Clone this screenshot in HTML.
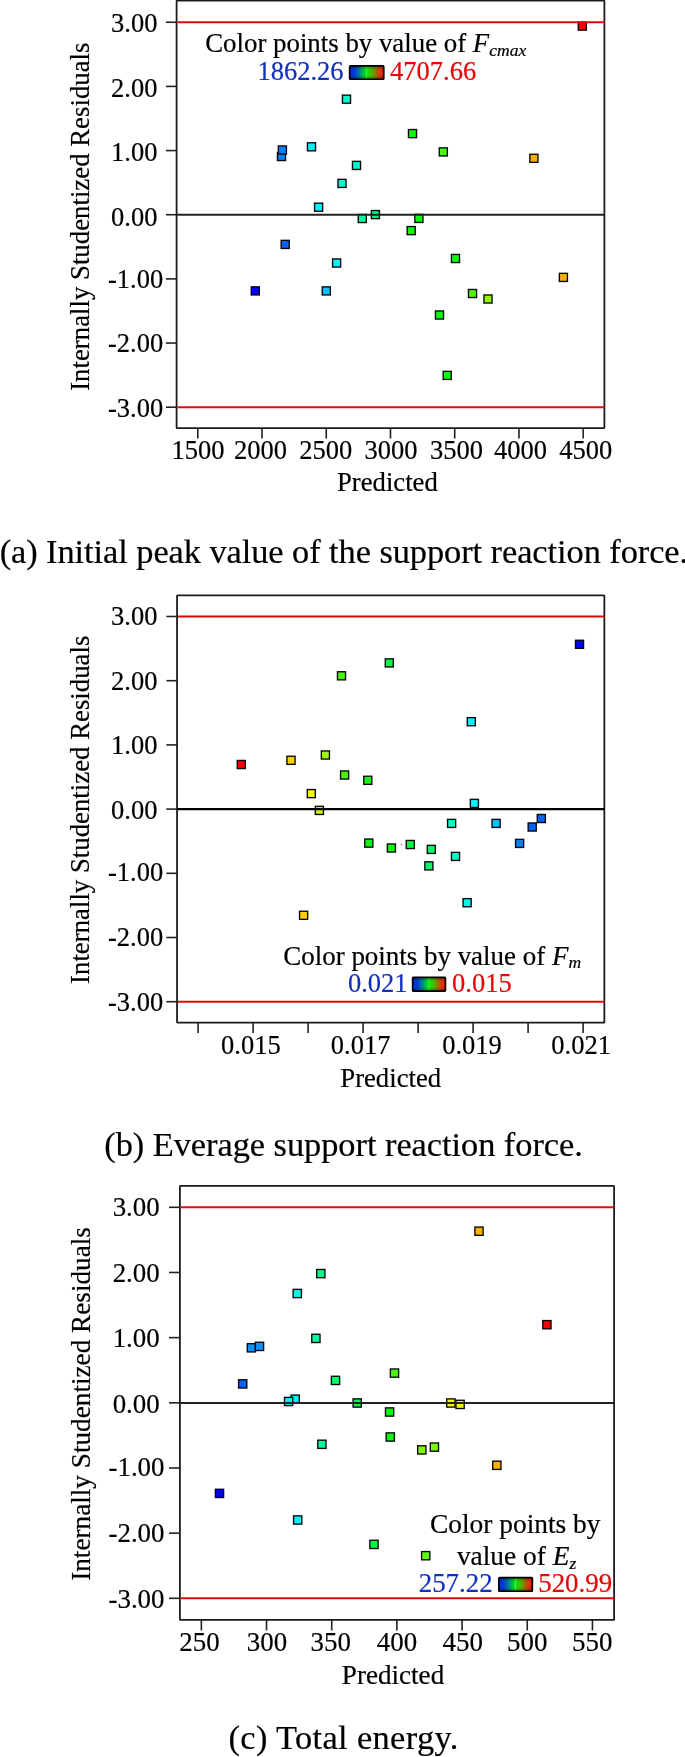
<!DOCTYPE html>
<html><head><meta charset="utf-8"><title>Residual plots</title>
<style>
html,body{margin:0;padding:0;background:#fff;}
body{width:685px;height:1757px;overflow:hidden;}
svg{display:block;will-change:transform;font-family:"Liberation Serif",serif;}
</style></head><body>
<svg width="685" height="1757" viewBox="0 0 685 1757">
<defs><linearGradient id="cb" x1="0" y1="0" x2="1" y2="0">
<stop offset="0" stop-color="#0028e0"/><stop offset="0.15" stop-color="#0040d0"/><stop offset="0.3" stop-color="#008890"/><stop offset="0.42" stop-color="#00c838"/><stop offset="0.48" stop-color="#10e818"/><stop offset="0.5" stop-color="#40ff40"/><stop offset="0.52" stop-color="#18e010"/><stop offset="0.65" stop-color="#48b800"/><stop offset="0.76" stop-color="#907800"/><stop offset="0.86" stop-color="#d04008"/><stop offset="0.93" stop-color="#e82808"/><stop offset="1" stop-color="#f01808"/>
</linearGradient>
<linearGradient id="sh" x1="0" y1="0" x2="0" y2="1"><stop offset="0" stop-color="#000" stop-opacity="0.35"/><stop offset="0.3" stop-color="#000" stop-opacity="0"/><stop offset="0.7" stop-color="#000" stop-opacity="0"/><stop offset="1" stop-color="#000" stop-opacity="0.35"/></linearGradient></defs>
<rect width="685" height="1757" fill="#fff"/>
<rect x="176.60" y="0.60" width="427.80" height="427.60" fill="none" stroke="#1c1c1c" stroke-width="1.8" rx="0.6"/>
<line x1="165.90" y1="22.25" x2="176.60" y2="22.25" stroke="#222" stroke-width="1.6"/>
<line x1="165.90" y1="86.41" x2="176.60" y2="86.41" stroke="#222" stroke-width="1.6"/>
<line x1="165.90" y1="150.57" x2="176.60" y2="150.57" stroke="#222" stroke-width="1.6"/>
<line x1="165.90" y1="214.73" x2="176.60" y2="214.73" stroke="#222" stroke-width="1.6"/>
<line x1="165.90" y1="278.89" x2="176.60" y2="278.89" stroke="#222" stroke-width="1.6"/>
<line x1="165.90" y1="343.05" x2="176.60" y2="343.05" stroke="#222" stroke-width="1.6"/>
<line x1="165.90" y1="407.21" x2="176.60" y2="407.21" stroke="#222" stroke-width="1.6"/>
<text x="134.30" y="31.80" font-size="26.5" text-anchor="middle" fill="#000" stroke="#000" stroke-width="0.2" >3.00</text>
<text x="134.30" y="96.80" font-size="26.5" text-anchor="middle" fill="#000" stroke="#000" stroke-width="0.2" >2.00</text>
<text x="134.30" y="161.40" font-size="26.5" text-anchor="middle" fill="#000" stroke="#000" stroke-width="0.2" >1.00</text>
<text x="134.30" y="225.90" font-size="26.5" text-anchor="middle" fill="#000" stroke="#000" stroke-width="0.2" >0.00</text>
<text x="135.60" y="287.60" font-size="26.5" text-anchor="middle" fill="#000" stroke="#000" stroke-width="0.2" >-1.00</text>
<text x="135.60" y="352.20" font-size="26.5" text-anchor="middle" fill="#000" stroke="#000" stroke-width="0.2" >-2.00</text>
<text x="135.60" y="416.60" font-size="26.5" text-anchor="middle" fill="#000" stroke="#000" stroke-width="0.2" >-3.00</text>
<line x1="197.80" y1="428.20" x2="197.80" y2="438.60" stroke="#222" stroke-width="1.6"/>
<line x1="262.03" y1="428.20" x2="262.03" y2="438.60" stroke="#222" stroke-width="1.6"/>
<line x1="326.26" y1="428.20" x2="326.26" y2="438.60" stroke="#222" stroke-width="1.6"/>
<line x1="390.49" y1="428.20" x2="390.49" y2="438.60" stroke="#222" stroke-width="1.6"/>
<line x1="454.72" y1="428.20" x2="454.72" y2="438.60" stroke="#222" stroke-width="1.6"/>
<line x1="518.95" y1="428.20" x2="518.95" y2="438.60" stroke="#222" stroke-width="1.6"/>
<line x1="583.18" y1="428.20" x2="583.18" y2="438.60" stroke="#222" stroke-width="1.6"/>
<text x="198.00" y="459.00" font-size="26.5" text-anchor="middle" fill="#000" stroke="#000" stroke-width="0.2" >1500</text>
<text x="260.40" y="459.00" font-size="26.5" text-anchor="middle" fill="#000" stroke="#000" stroke-width="0.2" >2000</text>
<text x="325.70" y="459.00" font-size="26.5" text-anchor="middle" fill="#000" stroke="#000" stroke-width="0.2" >2500</text>
<text x="391.00" y="459.00" font-size="26.5" text-anchor="middle" fill="#000" stroke="#000" stroke-width="0.2" >3000</text>
<text x="456.40" y="459.00" font-size="26.5" text-anchor="middle" fill="#000" stroke="#000" stroke-width="0.2" >3500</text>
<text x="520.50" y="459.00" font-size="26.5" text-anchor="middle" fill="#000" stroke="#000" stroke-width="0.2" >4000</text>
<text x="585.70" y="459.00" font-size="26.5" text-anchor="middle" fill="#000" stroke="#000" stroke-width="0.2" >4500</text>
<rect x="578.25" y="22.05" width="8.10" height="8.10" fill="#f80000" stroke="#05050a" stroke-width="1.35"/>
<rect x="342.45" y="95.15" width="8.10" height="8.10" fill="#08f8c8" stroke="#05050a" stroke-width="1.35"/>
<rect x="408.45" y="129.55" width="8.10" height="8.10" fill="#10f810" stroke="#05050a" stroke-width="1.35"/>
<rect x="277.45" y="152.45" width="8.10" height="8.10" fill="#0880f8" stroke="#05050a" stroke-width="1.35"/>
<rect x="278.35" y="145.95" width="8.10" height="8.10" fill="#0880f8" stroke="#05050a" stroke-width="1.35"/>
<rect x="307.45" y="142.75" width="8.10" height="8.10" fill="#08f0f8" stroke="#05050a" stroke-width="1.35"/>
<rect x="439.25" y="147.85" width="8.10" height="8.10" fill="#48f808" stroke="#05050a" stroke-width="1.35"/>
<rect x="529.85" y="154.25" width="8.10" height="8.10" fill="#f8b000" stroke="#05050a" stroke-width="1.35"/>
<rect x="352.45" y="161.35" width="8.10" height="8.10" fill="#08f8c8" stroke="#05050a" stroke-width="1.35"/>
<rect x="337.95" y="179.35" width="8.10" height="8.10" fill="#08f8c8" stroke="#05050a" stroke-width="1.35"/>
<rect x="314.55" y="203.15" width="8.10" height="8.10" fill="#08f0f8" stroke="#05050a" stroke-width="1.35"/>
<rect x="371.35" y="210.55" width="8.10" height="8.10" fill="#08f080" stroke="#05050a" stroke-width="1.35"/>
<rect x="358.25" y="214.45" width="8.10" height="8.10" fill="#08f8a0" stroke="#05050a" stroke-width="1.35"/>
<rect x="414.85" y="214.35" width="8.10" height="8.10" fill="#10f810" stroke="#05050a" stroke-width="1.35"/>
<rect x="407.15" y="226.55" width="8.10" height="8.10" fill="#10f810" stroke="#05050a" stroke-width="1.35"/>
<rect x="281.15" y="240.35" width="8.10" height="8.10" fill="#0860f8" stroke="#05050a" stroke-width="1.35"/>
<rect x="451.45" y="254.45" width="8.10" height="8.10" fill="#10f810" stroke="#05050a" stroke-width="1.35"/>
<rect x="332.55" y="258.95" width="8.10" height="8.10" fill="#08f0f8" stroke="#05050a" stroke-width="1.35"/>
<rect x="559.35" y="273.35" width="8.10" height="8.10" fill="#f8b000" stroke="#05050a" stroke-width="1.35"/>
<rect x="251.25" y="286.85" width="8.10" height="8.10" fill="#0000f8" stroke="#05050a" stroke-width="1.35"/>
<rect x="322.25" y="286.85" width="8.10" height="8.10" fill="#08c0f8" stroke="#05050a" stroke-width="1.35"/>
<rect x="468.45" y="289.45" width="8.10" height="8.10" fill="#48f808" stroke="#05050a" stroke-width="1.35"/>
<rect x="483.95" y="294.95" width="8.10" height="8.10" fill="#90f808" stroke="#05050a" stroke-width="1.35"/>
<rect x="435.45" y="310.95" width="8.10" height="8.10" fill="#10f810" stroke="#05050a" stroke-width="1.35"/>
<rect x="443.15" y="371.35" width="8.10" height="8.10" fill="#10f810" stroke="#05050a" stroke-width="1.35"/>
<line x1="176.60" y1="214.85" x2="604.40" y2="214.85" stroke="#222" stroke-width="2.0"/>
<line x1="177.50" y1="22.25" x2="604.70" y2="22.25" stroke="#e00a0a" stroke-width="2.1"/>
<line x1="177.50" y1="407.21" x2="604.70" y2="407.21" stroke="#e00a0a" stroke-width="2.1"/>
<text x="387.40" y="491.30" font-size="26.7" text-anchor="middle" fill="#000" stroke="#000" stroke-width="0.2" >Predicted</text>
<text transform="translate(88.90,216.70) rotate(-90)" font-size="26.80" text-anchor="middle" fill="#000" stroke="#000" stroke-width="0.2">Internally Studentized Residuals</text>
<text x="205.20" y="52.10" font-size="26.85" text-anchor="start" fill="#000" stroke="#000" stroke-width="0.2" >Color points by value of <tspan font-style="italic">F</tspan><tspan font-style="italic" font-size="17.5" dy="3.6">cmax</tspan></text>
<text x="343.50" y="79.80" font-size="26.5" text-anchor="end" fill="#1030c0" stroke="#1030c0" stroke-width="0.2" >1862.26</text>
<text x="390.00" y="79.80" font-size="26.5" text-anchor="start" fill="#e60606" stroke="#e60606" stroke-width="0.2" >4707.66</text>
<rect x="349.65" y="65.85" width="34.10" height="13.40" rx="0.8" fill="url(#cb)"/>
<rect x="349.65" y="65.85" width="34.10" height="13.40" rx="0.8" fill="url(#sh)" stroke="#000" stroke-width="1.7"/>
<text x="-0.35" y="563.10" font-size="34.4" text-anchor="start" fill="#000" stroke="#000" stroke-width="0.2" textLength="688.5">(a) Initial peak value of the support reaction force.</text>
<rect x="177.05" y="595.40" width="427.30" height="427.30" fill="none" stroke="#1c1c1c" stroke-width="1.8" rx="0.6"/>
<line x1="166.35" y1="616.50" x2="177.05" y2="616.50" stroke="#222" stroke-width="1.6"/>
<line x1="166.35" y1="680.70" x2="177.05" y2="680.70" stroke="#222" stroke-width="1.6"/>
<line x1="166.35" y1="744.90" x2="177.05" y2="744.90" stroke="#222" stroke-width="1.6"/>
<line x1="166.35" y1="809.10" x2="177.05" y2="809.10" stroke="#222" stroke-width="1.6"/>
<line x1="166.35" y1="873.30" x2="177.05" y2="873.30" stroke="#222" stroke-width="1.6"/>
<line x1="166.35" y1="937.50" x2="177.05" y2="937.50" stroke="#222" stroke-width="1.6"/>
<line x1="166.35" y1="1001.70" x2="177.05" y2="1001.70" stroke="#222" stroke-width="1.6"/>
<text x="134.30" y="624.90" font-size="26.5" text-anchor="middle" fill="#000" stroke="#000" stroke-width="0.2" >3.00</text>
<text x="134.30" y="690.00" font-size="26.5" text-anchor="middle" fill="#000" stroke="#000" stroke-width="0.2" >2.00</text>
<text x="134.30" y="754.40" font-size="26.5" text-anchor="middle" fill="#000" stroke="#000" stroke-width="0.2" >1.00</text>
<text x="134.30" y="818.90" font-size="26.5" text-anchor="middle" fill="#000" stroke="#000" stroke-width="0.2" >0.00</text>
<text x="135.60" y="880.60" font-size="26.5" text-anchor="middle" fill="#000" stroke="#000" stroke-width="0.2" >-1.00</text>
<text x="135.60" y="946.00" font-size="26.5" text-anchor="middle" fill="#000" stroke="#000" stroke-width="0.2" >-2.00</text>
<text x="135.60" y="1010.70" font-size="26.5" text-anchor="middle" fill="#000" stroke="#000" stroke-width="0.2" >-3.00</text>
<line x1="198.10" y1="1022.70" x2="198.10" y2="1033.10" stroke="#222" stroke-width="1.6"/>
<line x1="253.10" y1="1022.70" x2="253.10" y2="1033.10" stroke="#222" stroke-width="1.6"/>
<line x1="308.10" y1="1022.70" x2="308.10" y2="1033.10" stroke="#222" stroke-width="1.6"/>
<line x1="363.10" y1="1022.70" x2="363.10" y2="1033.10" stroke="#222" stroke-width="1.6"/>
<line x1="418.10" y1="1022.70" x2="418.10" y2="1033.10" stroke="#222" stroke-width="1.6"/>
<line x1="473.10" y1="1022.70" x2="473.10" y2="1033.10" stroke="#222" stroke-width="1.6"/>
<line x1="528.10" y1="1022.70" x2="528.10" y2="1033.10" stroke="#222" stroke-width="1.6"/>
<line x1="583.10" y1="1022.70" x2="583.10" y2="1033.10" stroke="#222" stroke-width="1.6"/>
<text x="250.90" y="1053.50" font-size="26.5" text-anchor="middle" fill="#000" stroke="#000" stroke-width="0.2" >0.015</text>
<text x="360.60" y="1053.50" font-size="26.5" text-anchor="middle" fill="#000" stroke="#000" stroke-width="0.2" >0.017</text>
<text x="472.00" y="1053.50" font-size="26.5" text-anchor="middle" fill="#000" stroke="#000" stroke-width="0.2" >0.019</text>
<text x="581.10" y="1053.50" font-size="26.5" text-anchor="middle" fill="#000" stroke="#000" stroke-width="0.2" >0.021</text>
<rect x="575.45" y="640.25" width="8.10" height="8.10" fill="#0000f8" stroke="#05050a" stroke-width="1.35"/>
<rect x="385.25" y="658.85" width="8.10" height="8.10" fill="#08f840" stroke="#05050a" stroke-width="1.35"/>
<rect x="337.45" y="671.75" width="8.10" height="8.10" fill="#48f808" stroke="#05050a" stroke-width="1.35"/>
<rect x="467.25" y="717.65" width="8.10" height="8.10" fill="#08f0f8" stroke="#05050a" stroke-width="1.35"/>
<rect x="237.25" y="760.45" width="8.10" height="8.10" fill="#f80000" stroke="#05050a" stroke-width="1.35"/>
<rect x="286.95" y="756.25" width="8.10" height="8.10" fill="#ffd000" stroke="#05050a" stroke-width="1.35"/>
<rect x="321.35" y="750.95" width="8.10" height="8.10" fill="#a0f808" stroke="#05050a" stroke-width="1.35"/>
<rect x="340.55" y="770.95" width="8.10" height="8.10" fill="#48f808" stroke="#05050a" stroke-width="1.35"/>
<rect x="363.75" y="776.25" width="8.10" height="8.10" fill="#10f810" stroke="#05050a" stroke-width="1.35"/>
<rect x="307.25" y="789.55" width="8.10" height="8.10" fill="#f0f808" stroke="#05050a" stroke-width="1.35"/>
<rect x="315.35" y="806.35" width="8.10" height="8.10" fill="#d0f808" stroke="#05050a" stroke-width="1.35"/>
<rect x="470.35" y="799.35" width="8.10" height="8.10" fill="#08f0f8" stroke="#05050a" stroke-width="1.35"/>
<rect x="447.55" y="819.35" width="8.10" height="8.10" fill="#08f8c8" stroke="#05050a" stroke-width="1.35"/>
<rect x="492.05" y="819.35" width="8.10" height="8.10" fill="#08c0f8" stroke="#05050a" stroke-width="1.35"/>
<rect x="528.15" y="822.95" width="8.10" height="8.10" fill="#0860f8" stroke="#05050a" stroke-width="1.35"/>
<rect x="537.25" y="814.45" width="8.10" height="8.10" fill="#0860f8" stroke="#05050a" stroke-width="1.35"/>
<rect x="515.55" y="839.35" width="8.10" height="8.10" fill="#0880f8" stroke="#05050a" stroke-width="1.35"/>
<rect x="364.75" y="839.05" width="8.10" height="8.10" fill="#10f810" stroke="#05050a" stroke-width="1.35"/>
<rect x="387.35" y="843.95" width="8.10" height="8.10" fill="#10f810" stroke="#05050a" stroke-width="1.35"/>
<rect x="406.25" y="840.45" width="8.10" height="8.10" fill="#08f840" stroke="#05050a" stroke-width="1.35"/>
<rect x="427.25" y="845.35" width="8.10" height="8.10" fill="#08f868" stroke="#05050a" stroke-width="1.35"/>
<rect x="451.45" y="852.35" width="8.10" height="8.10" fill="#08f8c8" stroke="#05050a" stroke-width="1.35"/>
<rect x="424.85" y="861.85" width="8.10" height="8.10" fill="#08f868" stroke="#05050a" stroke-width="1.35"/>
<rect x="463.05" y="898.65" width="8.10" height="8.10" fill="#08f8e8" stroke="#05050a" stroke-width="1.35"/>
<rect x="299.55" y="911.25" width="8.10" height="8.10" fill="#ffd000" stroke="#05050a" stroke-width="1.35"/>
<line x1="177.05" y1="809.05" x2="604.35" y2="809.05" stroke="#000" stroke-width="2.3"/>
<line x1="177.95" y1="616.50" x2="604.65" y2="616.50" stroke="#e00a0a" stroke-width="2.1"/>
<line x1="177.95" y1="1001.70" x2="604.65" y2="1001.70" stroke="#e00a0a" stroke-width="2.1"/>
<text x="390.70" y="1086.80" font-size="26.7" text-anchor="middle" fill="#000" stroke="#000" stroke-width="0.2" >Predicted</text>
<text transform="translate(88.90,809.80) rotate(-90)" font-size="26.80" text-anchor="middle" fill="#000" stroke="#000" stroke-width="0.2">Internally Studentized Residuals</text>
<circle cx="401.5" cy="844.6" r="0.7" fill="#555"/>
<text x="283.30" y="964.60" font-size="26.95" text-anchor="start" fill="#000" stroke="#000" stroke-width="0.2" >Color points by value of <tspan font-style="italic">F</tspan><tspan font-style="italic" font-size="17.5" dy="3.6">m</tspan></text>
<text x="407.60" y="992.10" font-size="26.5" text-anchor="end" fill="#1030c0" stroke="#1030c0" stroke-width="0.2" >0.021</text>
<text x="452.00" y="992.00" font-size="26.5" text-anchor="start" fill="#e60606" stroke="#e60606" stroke-width="0.2" >0.015</text>
<rect x="412.65" y="977.45" width="32.80" height="13.60" rx="0.8" fill="url(#cb)"/>
<rect x="412.65" y="977.45" width="32.80" height="13.60" rx="0.8" fill="url(#sh)" stroke="#000" stroke-width="1.7"/>
<text x="104.25" y="1156.20" font-size="34.4" text-anchor="start" fill="#000" stroke="#000" stroke-width="0.2" textLength="478.6">(b) Everage support reaction force.</text>
<rect x="179.90" y="1185.95" width="434.20" height="433.95" fill="none" stroke="#1c1c1c" stroke-width="1.8" rx="0.6"/>
<line x1="169.03" y1="1207.30" x2="179.90" y2="1207.30" stroke="#222" stroke-width="1.6"/>
<line x1="169.03" y1="1272.47" x2="179.90" y2="1272.47" stroke="#222" stroke-width="1.6"/>
<line x1="169.03" y1="1337.64" x2="179.90" y2="1337.64" stroke="#222" stroke-width="1.6"/>
<line x1="169.03" y1="1402.81" x2="179.90" y2="1402.81" stroke="#222" stroke-width="1.6"/>
<line x1="169.03" y1="1467.98" x2="179.90" y2="1467.98" stroke="#222" stroke-width="1.6"/>
<line x1="169.03" y1="1533.15" x2="179.90" y2="1533.15" stroke="#222" stroke-width="1.6"/>
<line x1="169.03" y1="1598.32" x2="179.90" y2="1598.32" stroke="#222" stroke-width="1.6"/>
<text x="136.20" y="1216.00" font-size="26.924" text-anchor="middle" fill="#000" stroke="#000" stroke-width="0.2" >3.00</text>
<text x="136.20" y="1281.70" font-size="26.924" text-anchor="middle" fill="#000" stroke="#000" stroke-width="0.2" >2.00</text>
<text x="136.20" y="1347.10" font-size="26.924" text-anchor="middle" fill="#000" stroke="#000" stroke-width="0.2" >1.00</text>
<text x="136.20" y="1412.50" font-size="26.924" text-anchor="middle" fill="#000" stroke="#000" stroke-width="0.2" >0.00</text>
<text x="136.50" y="1476.10" font-size="26.924" text-anchor="middle" fill="#000" stroke="#000" stroke-width="0.2" >-1.00</text>
<text x="136.50" y="1541.90" font-size="26.924" text-anchor="middle" fill="#000" stroke="#000" stroke-width="0.2" >-2.00</text>
<text x="136.50" y="1608.00" font-size="26.924" text-anchor="middle" fill="#000" stroke="#000" stroke-width="0.2" >-3.00</text>
<line x1="201.35" y1="1619.90" x2="201.35" y2="1630.47" stroke="#222" stroke-width="1.6"/>
<line x1="266.53" y1="1619.90" x2="266.53" y2="1630.47" stroke="#222" stroke-width="1.6"/>
<line x1="331.71" y1="1619.90" x2="331.71" y2="1630.47" stroke="#222" stroke-width="1.6"/>
<line x1="396.89" y1="1619.90" x2="396.89" y2="1630.47" stroke="#222" stroke-width="1.6"/>
<line x1="462.07" y1="1619.90" x2="462.07" y2="1630.47" stroke="#222" stroke-width="1.6"/>
<line x1="527.25" y1="1619.90" x2="527.25" y2="1630.47" stroke="#222" stroke-width="1.6"/>
<line x1="592.43" y1="1619.90" x2="592.43" y2="1630.47" stroke="#222" stroke-width="1.6"/>
<text x="199.40" y="1651.20" font-size="26.924" text-anchor="middle" fill="#000" stroke="#000" stroke-width="0.2" >250</text>
<text x="266.90" y="1651.20" font-size="26.924" text-anchor="middle" fill="#000" stroke="#000" stroke-width="0.2" >300</text>
<text x="330.80" y="1651.20" font-size="26.924" text-anchor="middle" fill="#000" stroke="#000" stroke-width="0.2" >350</text>
<text x="397.00" y="1651.20" font-size="26.924" text-anchor="middle" fill="#000" stroke="#000" stroke-width="0.2" >400</text>
<text x="462.70" y="1651.20" font-size="26.924" text-anchor="middle" fill="#000" stroke="#000" stroke-width="0.2" >450</text>
<text x="527.30" y="1651.20" font-size="26.924" text-anchor="middle" fill="#000" stroke="#000" stroke-width="0.2" >500</text>
<text x="592.30" y="1651.20" font-size="26.924" text-anchor="middle" fill="#000" stroke="#000" stroke-width="0.2" >550</text>
<rect x="474.87" y="1227.07" width="8.25" height="8.25" fill="#f8b000" stroke="#05050a" stroke-width="1.35"/>
<rect x="316.67" y="1269.47" width="8.25" height="8.25" fill="#08f888" stroke="#05050a" stroke-width="1.35"/>
<rect x="293.17" y="1289.37" width="8.25" height="8.25" fill="#08f8e8" stroke="#05050a" stroke-width="1.35"/>
<rect x="542.77" y="1320.57" width="8.25" height="8.25" fill="#f80000" stroke="#05050a" stroke-width="1.35"/>
<rect x="311.77" y="1334.27" width="8.25" height="8.25" fill="#08f8a0" stroke="#05050a" stroke-width="1.35"/>
<rect x="247.27" y="1343.67" width="8.25" height="8.25" fill="#1090f8" stroke="#05050a" stroke-width="1.35"/>
<rect x="255.37" y="1342.27" width="8.25" height="8.25" fill="#1090f8" stroke="#05050a" stroke-width="1.35"/>
<rect x="331.37" y="1376.27" width="8.25" height="8.25" fill="#08f868" stroke="#05050a" stroke-width="1.35"/>
<rect x="390.37" y="1368.97" width="8.25" height="8.25" fill="#48f808" stroke="#05050a" stroke-width="1.35"/>
<rect x="238.57" y="1379.77" width="8.25" height="8.25" fill="#0860f8" stroke="#05050a" stroke-width="1.35"/>
<rect x="291.07" y="1395.07" width="8.25" height="8.25" fill="#08f0f8" stroke="#05050a" stroke-width="1.35"/>
<rect x="284.47" y="1397.37" width="8.25" height="8.25" fill="#08f0f8" stroke="#05050a" stroke-width="1.35"/>
<rect x="353.07" y="1398.87" width="8.25" height="8.25" fill="#08f840" stroke="#05050a" stroke-width="1.35"/>
<rect x="446.77" y="1398.87" width="8.25" height="8.25" fill="#f0f808" stroke="#05050a" stroke-width="1.35"/>
<rect x="455.97" y="1400.27" width="8.25" height="8.25" fill="#f0f808" stroke="#05050a" stroke-width="1.35"/>
<rect x="385.47" y="1407.87" width="8.25" height="8.25" fill="#10f810" stroke="#05050a" stroke-width="1.35"/>
<rect x="386.17" y="1432.87" width="8.25" height="8.25" fill="#10f810" stroke="#05050a" stroke-width="1.35"/>
<rect x="317.77" y="1440.17" width="8.25" height="8.25" fill="#08f8a0" stroke="#05050a" stroke-width="1.35"/>
<rect x="417.67" y="1445.77" width="8.25" height="8.25" fill="#80f808" stroke="#05050a" stroke-width="1.35"/>
<rect x="430.27" y="1442.97" width="8.25" height="8.25" fill="#80f808" stroke="#05050a" stroke-width="1.35"/>
<rect x="492.67" y="1461.17" width="8.25" height="8.25" fill="#f8b000" stroke="#05050a" stroke-width="1.35"/>
<rect x="215.37" y="1489.27" width="8.25" height="8.25" fill="#0000f8" stroke="#05050a" stroke-width="1.35"/>
<rect x="293.57" y="1515.87" width="8.25" height="8.25" fill="#08f0f8" stroke="#05050a" stroke-width="1.35"/>
<rect x="369.87" y="1540.27" width="8.25" height="8.25" fill="#08f840" stroke="#05050a" stroke-width="1.35"/>
<rect x="421.57" y="1551.57" width="8.25" height="8.25" fill="#60f808" stroke="#05050a" stroke-width="1.35"/>
<line x1="179.90" y1="1403.10" x2="614.10" y2="1403.10" stroke="#222" stroke-width="2.0"/>
<line x1="180.80" y1="1207.30" x2="614.40" y2="1207.30" stroke="#e00a0a" stroke-width="2.1"/>
<line x1="180.80" y1="1598.32" x2="614.40" y2="1598.32" stroke="#e00a0a" stroke-width="2.1"/>
<text x="393.00" y="1683.80" font-size="27.1272" text-anchor="middle" fill="#000" stroke="#000" stroke-width="0.2" >Predicted</text>
<text transform="translate(89.90,1403.95) rotate(-90)" font-size="27.23" text-anchor="middle" fill="#000" stroke="#000" stroke-width="0.2">Internally Studentized Residuals</text>
<text x="600.50" y="1533.00" font-size="27.4" text-anchor="end" fill="#000" stroke="#000" stroke-width="0.2" >Color points by</text>
<text x="456.90" y="1565.30" font-size="27.4" text-anchor="start" fill="#000" stroke="#000" stroke-width="0.2" >value of <tspan font-style="italic">E</tspan><tspan font-style="italic" font-size="17.5" dy="3.6">z</tspan></text>
<text x="492.70" y="1591.60" font-size="26.924" text-anchor="end" fill="#1030c0" stroke="#1030c0" stroke-width="0.2" >257.22</text>
<text x="538.20" y="1591.60" font-size="26.924" text-anchor="start" fill="#e60606" stroke="#e60606" stroke-width="0.2" >520.99</text>
<rect x="498.85" y="1577.65" width="33.50" height="13.60" rx="0.8" fill="url(#cb)"/>
<rect x="498.85" y="1577.65" width="33.50" height="13.60" rx="0.8" fill="url(#sh)" stroke="#000" stroke-width="1.7"/>
<text x="228.50" y="1749.30" font-size="34.4" text-anchor="start" fill="#000" stroke="#000" stroke-width="0.2" textLength="229.9">(c) Total energy.</text>
</svg>
</body></html>
